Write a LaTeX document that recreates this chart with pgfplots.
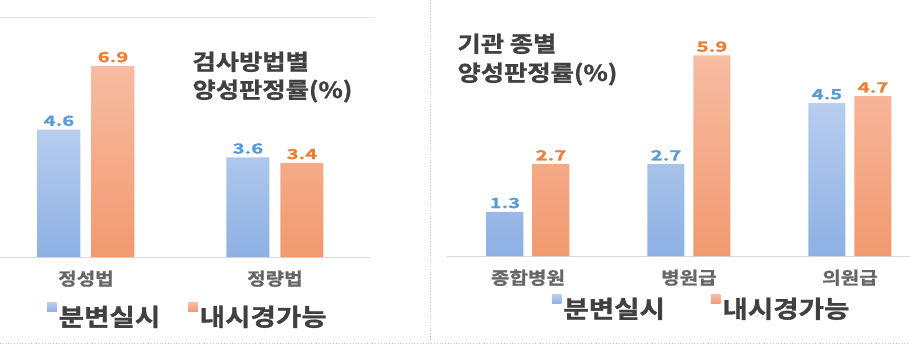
\documentclass[border=0pt]{standalone}
\usepackage{pgfplots}
\pgfplotsset{compat=1.18}
\usepackage{fontspec}
\newfontfamily\kr[FakeStretch=1.15,BoldFont={Noto Sans CJK KR Bold},BoldFeatures={FakeBold=1.2}]{Noto Sans CJK KR}
\newfontfamily\krnum[FakeStretch=1.45,BoldFont={Noto Sans CJK KR Bold},BoldFeatures={FakeBold=1.2}]{Noto Sans CJK KR}
\definecolor{bluetop}{HTML}{B7CEEE}
\definecolor{bluebot}{HTML}{8DB0E3}
\definecolor{orgtop}{HTML}{F7BCA2}
\definecolor{orgbot}{HTML}{F2996F}
\definecolor{bluelab}{HTML}{5B9BD5}
\definecolor{orglab}{HTML}{ED7D31}
\definecolor{bluesq}{HTML}{9DBBE6}
\definecolor{orgsq}{HTML}{F4A582}
\definecolor{txt}{HTML}{404040}
\definecolor{cat}{HTML}{666666}
\pgfplotsset{
  panel/.style={
    scale only axis,
    ymin=0,
    axis x line*=bottom,
    hide y axis,
    x axis line style={draw=gray!30, line width=1pt},
    major tick length=0pt,
    xtick=data,
    xticklabel style={font=\kr\bfseries\fontsize{17.5}{17.5}\selectfont, text=cat, yshift=-10pt},
    nodes near coords={\pgfmathprintnumber[fixed,precision=1,assume math mode=true]{\pgfplotspointmeta}},
    nodes near coords style={font=\krnum\bfseries\fontsize{14}{14}\selectfont},
    legend style={draw=none, fill=none, legend columns=2,
      font=\kr\bfseries\fontsize{24}{24}\selectfont, text=txt,
      legend cell align=left},
  },
  bluebars/.style={draw=none, top color=bluetop, bottom color=bluebot,
     nodes near coords style={text=bluelab},
     legend image code/.code={\path (0pt,0pt); \fill[bluesq] (0pt,5pt) rectangle (9.5pt,14pt);}},
  orgbars/.style={draw=none, top color=orgtop, bottom color=orgbot,
     nodes near coords style={text=orglab},
     legend image code/.code={\path (0pt,0pt); \fill[orgsq] (0pt,5pt) rectangle (9.5pt,14pt);}},
}
\begin{document}
\begin{tikzpicture}[x=1pt,y=1pt]
\path[use as bounding box, fill=white] (0,0) rectangle (910,351);
% decorations
\draw[gray!20, line width=0.8pt] (0,334) -- (375,334);
\draw[gray!45, dotted, line width=0.8pt] (430,351) -- (430,8);
\draw[gray!45, dotted, line width=0.8pt] (0,8) -- (910,8);
% left panel
\begin{axis}[panel,
  at={(0pt,94pt)}, anchor=south west,
  width=370pt, height=221.6pt,
  ymax=8, xmin=-0.455, xmax=1.503,
  ybar=11pt, bar width=43pt,
  xticklabels={정성법,정량법},
  legend style={at={(0.508,-0.266)}, anchor=center,
    /tikz/every even column/.append style={column sep=26pt}},
]
\addplot[bluebars] coordinates {(0,4.6) (1,3.6)};
\addplot[orgbars] coordinates {(0,6.9) (1,3.4)};
\legend{분변실시,내시경가능}
\end{axis}
\node[anchor=base west, align=left, text=txt, font=\kr\bfseries\fontsize{22}{28}\selectfont] at (189,253) {검사방법별\\양성판정률(\%)};
% right panel
\begin{axis}[panel,
  at={(447pt,95pt)}, anchor=south west,
  width=463pt, height=238pt,
  ymax=7, xmin=-0.503, xmax=2.373,
  ybar=9pt, bar width=37pt,
  xticklabels={종합병원,병원급,의원급},
  legend style={at={(0.55,-0.218)}, anchor=center,
    /tikz/every even column/.append style={column sep=44pt}},
]
\addplot[bluebars] coordinates {(0,1.3) (1,2.7) (2,4.5)};
\addplot[orgbars] coordinates {(0,2.7) (1,5.9) (2,4.7)};
\legend{분변실시,내시경가능}
\end{axis}
\node[anchor=base west, align=left, text=txt, font=\kr\bfseries\fontsize{22}{29}\selectfont] at (454,270) {기관 종별\\양성판정률(\%)};
\end{tikzpicture}
\end{document}
